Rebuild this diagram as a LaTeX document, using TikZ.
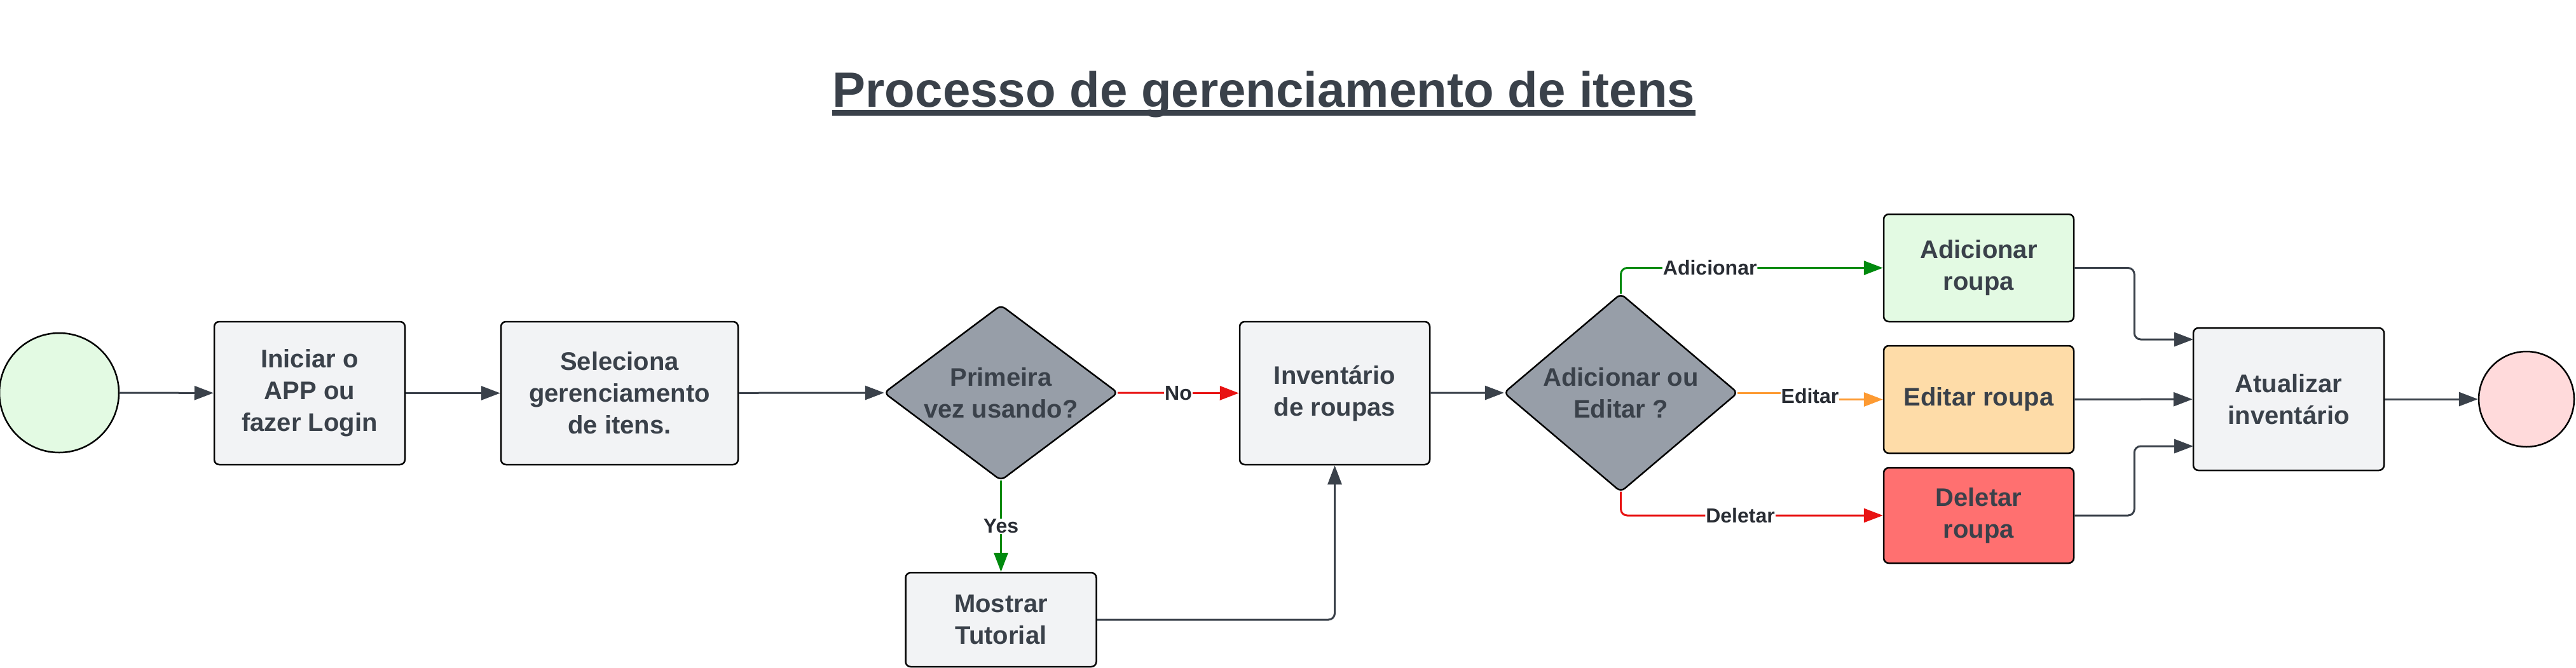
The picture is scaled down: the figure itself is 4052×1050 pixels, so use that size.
\documentclass[tikz,border=0pt]{standalone}
\usepackage{fontspec}
\setmainfont{Liberation Sans}
\usetikzlibrary{arrows.meta}
\definecolor{txt}{HTML}{3A414A}
\definecolor{labtxt}{HTML}{282C33}
\definecolor{boxgrey}{HTML}{F2F3F5}
\definecolor{diagrey}{HTML}{979EA8}
\definecolor{lgreen}{HTML}{E3FAE3}
\definecolor{lpink}{HTML}{FFDADB}
\definecolor{lorange}{HTML}{FEDCA8}
\definecolor{lred}{HTML}{FF7070}
\definecolor{lnGreen}{HTML}{008A0E}
\definecolor{lnRed}{HTML}{E81313}
\definecolor{lnOrange}{HTML}{FD9A32}
\pgfdeclarelayer{bg}
\pgfsetlayers{bg,main}
\newcommand{\nodefnt}{\fontsize{40}{50}\selectfont\bfseries}
\newcommand{\labfnt}{\fontsize{32}{38}\selectfont\bfseries}
\newcommand{\titlefnt}{\fontsize{78}{90}\selectfont\bfseries}
\tikzset{
  proc/.style={draw=black, line width=2.5pt, rounded corners=8pt, fill=boxgrey,
    align=center, text=txt, font=\nodefnt, inner sep=0pt},
  decis/.style={align=center, text=txt, font=\nodefnt, inner sep=0pt},
  diashape/.style={draw=black, line width=2.5pt, rounded corners=8pt, fill=diagrey},
  term/.style={shape=circle, draw=black, line width=2.5pt, inner sep=0pt},
  conn/.style={draw=txt, line width=3pt, -{Triangle[length=30pt,width=22pt]}},
  lab/.style={fill=white, text=labtxt, font=\labfnt, inner sep=1pt}
}
\begin{document}
\begin{tikzpicture}[x=1pt,y=-1pt]
\useasboundingbox (0,0) rectangle (4052,1050);
% title
\node[font=\titlefnt, text=txt, anchor=base, inner sep=0pt] (title) at (1988,168) {Processo de gerenciamento de itens};
\draw[txt, line width=9pt] ([yshift=-9.5pt]title.base west) -- ([yshift=-9.5pt]title.base east);
% nodes
\node[term, fill=lgreen, minimum size=188pt] (start) at (93,618) {};
\node[proc, minimum width=300pt, minimum height=225pt] (init) at (487,618.5) {Iniciar o\\APP ou\\fazer Login};
\node[proc, minimum width=373pt, minimum height=225pt] (sel) at (974.5,618.5) {Seleciona\\gerenciamento\\de itens.};
\node[decis, minimum width=367pt, minimum height=275pt] (d1) at (1574.5,618) {Primeira\\vez usando?};
\node[proc, minimum width=299pt, minimum height=225pt] (inv) at (2099.5,618.5) {Inventário\\de roupas};
\node[proc, minimum width=300pt, minimum height=148pt] (tut) at (1574.5,975) {Mostrar\\Tutorial};
\node[decis, minimum width=367pt, minimum height=311pt] (d2) at (2549.5,618) {Adicionar ou\\Editar ?};
\node[proc, fill=lgreen, minimum width=299pt, minimum height=169pt] (add) at (3112.5,421.5) {Adicionar\\roupa};
\node[proc, fill=lorange, minimum width=299pt, minimum height=169pt] (edit) at (3112.5,628.5) {Editar roupa};
\node[proc, fill=lred, minimum width=299pt, minimum height=150pt] (del) at (3112.5,811) {Deletar\\roupa};
\node[proc, minimum width=300pt, minimum height=224pt] (upd) at (3600,628) {Atualizar\\inventário};
\node[term, fill=lpink, minimum size=150pt] (end) at (3974,628) {};
\begin{pgfonlayer}{bg}
\fill[white] (0,0) rectangle (4052,1050);
\draw[diashape] (d1.north) -- (d1.east) -- (d1.south) -- (d1.west) -- cycle;
\draw[diashape] (d2.north) -- (d2.east) -- (d2.south) -- (d2.west) -- cycle;
\end{pgfonlayer}
\coordinate (uin1) at (3450,534);
\coordinate (uin3) at (3450,702);
\coordinate (ej1) at (2847,618);
\coordinate (ej2) at (2847,628.5);
% connectors
\draw[conn] (start) -- (init);
\draw[conn] (init) -- (sel);
\draw[conn] (sel) -- (d1.west);
\draw[conn, draw=lnRed] (d1.east) -- node[lab]{No} (inv.west);
\draw[conn, draw=lnGreen] (d1.south) -- node[lab]{Yes} (tut.north);
\draw[conn, rounded corners=10pt] (tut.east) -| (inv.south);
\draw[conn] (inv) -- (d2.west);
\draw[conn, draw=lnGreen, rounded corners=10pt] (d2.north) |- node[lab, pos=0.67]{Adicionar} (add.west);
\draw[conn, draw=lnOrange] (d2.east) -- (ej1) -- (ej2) -- (edit.west);
\node[lab] at (2847,623) {Editar};
\draw[conn, draw=lnRed, rounded corners=10pt] (d2.south) |- node[lab, pos=0.728]{Deletar} (del.west);
\draw[conn, rounded corners=10pt] (add.east) -- ++(94,0) |- (uin1);
\draw[conn] (edit) -- (upd);
\draw[conn, rounded corners=10pt] (del.east) -- ++(94,0) |- (uin3);
\draw[conn] (upd) -- (end);
\end{tikzpicture}
\end{document}
